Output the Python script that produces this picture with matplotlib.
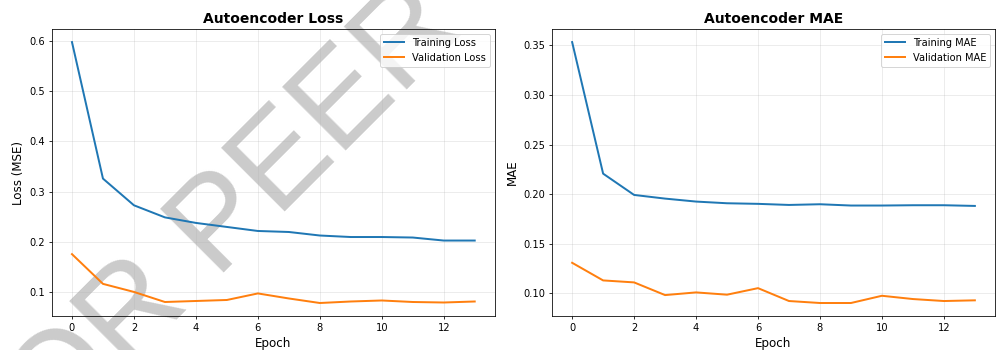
"""
Autoencoder training curves: loss and MAE per epoch.
"""

import matplotlib
matplotlib.use('Agg')
from matplotlib import pyplot as plt

epochs = list(range(14))
train_loss = [0.597, 0.326, 0.273, 0.249, 0.238, 0.230, 0.222, 0.220, 0.213, 0.210, 0.210, 0.209, 0.203, 0.203]
val_loss = [0.176, 0.117, 0.101, 0.081, 0.083, 0.085, 0.098, 0.088, 0.079, 0.082, 0.084, 0.081, 0.080, 0.082]
train_mae = [0.3534, 0.2206, 0.1991, 0.1954, 0.1924, 0.1907, 0.1901, 0.1890, 0.1897, 0.1884, 0.1884, 0.1887, 0.1887, 0.1880]
val_mae = [0.1306, 0.1128, 0.1108, 0.0980, 0.1007, 0.0984, 0.1050, 0.0920, 0.0900, 0.0900, 0.0973, 0.0940, 0.0920, 0.0927]

dpi = 997 / 14.
fig, (ax1, ax2) = plt.subplots(1, 2, figsize=(14, 350 / dpi), dpi=dpi)
fig.subplots_adjust(left=0.052, right=0.998, bottom=0.097, top=0.917, wspace=0.129)

ax1.plot(epochs, train_loss, linewidth=2, label='Training Loss')
ax1.plot(epochs, val_loss, linewidth=2, label='Validation Loss')
ax1.set_title('Autoencoder Loss', fontsize=14, fontweight='bold')
ax1.set_xlabel('Epoch', fontsize=12)
ax1.set_ylabel('Loss (MSE)', fontsize=12)
ax1.legend(loc='upper right', fontsize=10)
ax1.grid(True, alpha=0.3)

ax2.plot(epochs, train_mae, linewidth=2, label='Training MAE')
ax2.plot(epochs, val_mae, linewidth=2, label='Validation MAE')
ax2.set_title('Autoencoder MAE', fontsize=14, fontweight='bold')
ax2.set_xlabel('Epoch', fontsize=12)
ax2.set_ylabel('MAE', fontsize=12)
ax2.legend(loc='upper right', fontsize=10)
ax2.grid(True, alpha=0.3)

for ax in (ax1, ax2):
    ax.tick_params(labelsize=10)
    ax.set_facecolor('none')

# watermark behind the plots
fig.text(425 / 997, 279 / 350, 'FOR PEER REVIEW', family='Liberation Sans', fontsize=131,
         color='#cbcbcb', rotation=45, rotation_mode='anchor',
         ha='center', va='baseline', zorder=-1)

fig.savefig('out.png', dpi=dpi)
